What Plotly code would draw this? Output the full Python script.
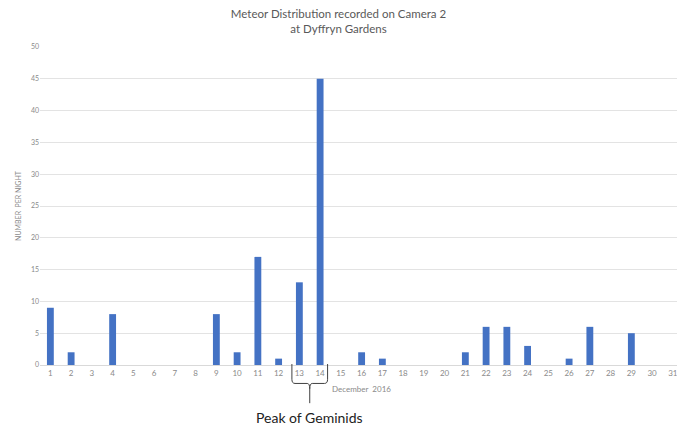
import plotly.graph_objects as go

days = list(range(1, 32))
counts = [9, 2, 0, 8, 0, 0, 0, 0, 8, 2, 17, 1, 13, 45, 0, 2, 1, 0, 0, 0,
          2, 6, 6, 3, 0, 1, 6, 0, 5, 0, 0]
y_ticks = [0, 5, 10, 15, 20, 25, 30, 35, 40, 45, 50]

title_text = "Meteor Distribution recorded on Camera 2<br>at Dyffryn Gardens"
x_label = "December  2016"
y_label = "NUMBER  PER NIGHT"
peak_label = "Peak of Geminids"
peak_days = [13, 14]

FONT = "Lato, Open Sans, sans-serif"
GREY = "#8a8a8a"

fig = go.Figure()
fig.add_trace(go.Bar(x=days, y=counts, width=0.33,
                     marker=dict(color="#4472C4", line=dict(width=0))))

x0 = peak_days[0] - 0.36
x1 = peak_days[1] + 0.36
xm = (peak_days[0] + peak_days[1]) / 2
brace = (f"M {x0},0.003 L {x0},-0.045 Q {x0},-0.058 {x0+0.15},-0.058 "
         f"L {xm-0.12},-0.058 Q {xm},-0.058 {xm},-0.075 L {xm},-0.12 "
         f"M {xm},-0.075 Q {xm},-0.058 {xm+0.12},-0.058 "
         f"L {x1-0.15},-0.058 Q {x1},-0.058 {x1},-0.045 L {x1},0.003")

fig.add_shape(type="path", path=brace, xref="x", yref="paper",
              line=dict(color="#404040", width=1))

fig.add_annotation(text=x_label, x=16.0, y=-0.075, xref="x", yref="paper",
                   showarrow=False, font=dict(family=FONT, size=8, color=GREY),
                   xanchor="center", yanchor="middle")
fig.add_annotation(text=peak_label, x=xm, y=-0.164, xref="x", yref="paper",
                   showarrow=False, font=dict(family=FONT, size=14, color="#222222"),
                   xanchor="center", yanchor="middle")

fig.update_layout(
    width=677, height=425,
    margin=dict(l=40, r=0, t=47, b=60),
    paper_bgcolor="white", plot_bgcolor="white",
    showlegend=False,
    title=dict(text=title_text, x=0.5, xanchor="center", y=0.957, yanchor="top",
               font=dict(family=FONT, size=11.5, color="#595959")),
    xaxis=dict(range=[0.5, 31.2], tickmode="array", tickvals=days,
               ticktext=[str(d) for d in days], showgrid=False,
               showline=True, linecolor="#d9d9d9", linewidth=1, ticks="",
               ticklabeloverflow="allow", automargin=False,
               tickfont=dict(family=FONT, size=8, color=GREY), zeroline=False),
    yaxis=dict(range=[0, 50], tickmode="array", tickvals=y_ticks,
               showgrid=True, gridcolor="#e3e3e3", gridwidth=1, zeroline=False,
               ticks="", tickfont=dict(family=FONT, size=7, color=GREY),
               automargin=False,
               title=dict(text=y_label, standoff=8,
                          font=dict(family=FONT, size=7, color=GREY))),
)

fig.write_html("out.html", config={"displayModeBar": False},
               post_script="document.body.style.margin='0';document.body.style.overflow='hidden';")
